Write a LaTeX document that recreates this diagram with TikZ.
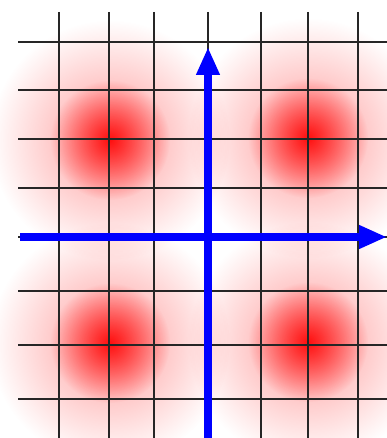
\documentclass[tikz,border=0pt]{standalone}
\usepackage{tikz}
\usetikzlibrary{arrows.meta,fadings}

\tikzfading[name=blobfade, inner color=transparent!0, outer color=transparent!100]

\begin{document}
\begin{tikzpicture}[
  x=1pt, y=-1pt,
  gridline/.style={line width=2.8pt, black!85},
  axis/.style={line width=8pt, blue, -{Triangle[length=28pt, width=22pt]}},
  blob/.style={red, path fading=blobfade}]

\useasboundingbox (0,0) rectangle (387,438);

% red spots
\foreach \cx/\cy [count=\i] in {110/140, 308/138, 110/343, 308/342} {
  \fill[blob, opacity=0.4] (\cx,\cy) circle (120);
  \fill[blob, opacity=0.9] (\cx,\cy) circle (60);
}

% grid
\foreach \gx in {59,109,154,208,261,308,358}
  \draw[gridline] (\gx,12) -- (\gx,438);
\foreach \gy in {42,90,139,188,237,291,345,399}
  \draw[gridline] (18,\gy) -- (387,\gy);

% axes
\coordinate (xstart) at (20,237);
\coordinate (xend) at (387,237);
\coordinate (ystart) at (208,438);
\coordinate (yend) at (208,47);
\draw[axis] (xstart) -- (xend);
\draw[axis] (ystart) -- (yend);
\end{tikzpicture}
\end{document}
